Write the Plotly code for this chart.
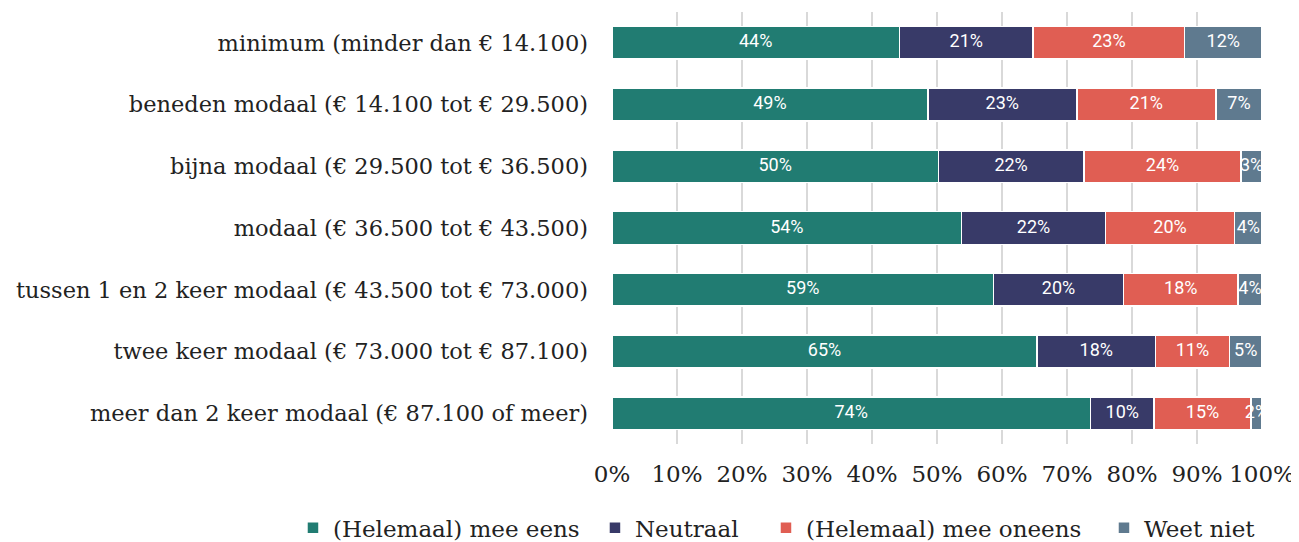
import plotly.graph_objects as go

categories = [
    "minimum (minder dan € 14.100)",
    "beneden modaal (€ 14.100 tot € 29.500)",
    "bijna modaal (€ 29.500 tot € 36.500)",
    "modaal (€ 36.500 tot € 43.500)",
    "tussen 1 en 2 keer modaal (€ 43.500 tot € 73.000)",
    "twee keer modaal (€ 73.000 tot € 87.100)",
    "meer dan 2 keer modaal (€ 87.100 of meer)",
]
series_names = ["(Helemaal) mee eens", "Neutraal", "(Helemaal) mee oneens", "Weet niet"]
eens = [44.2, 48.6, 50.2, 53.8, 58.7, 65.4, 73.6]
neutraal = [20.6, 22.9, 22.4, 22.1, 20.0, 18.2, 9.8]
oneens = [23.3, 21.4, 24.2, 19.9, 17.6, 11.4, 14.9]
weet_niet = [11.9, 7.1, 3.2, 4.2, 3.7, 5.0, 1.7]
colors = ["#217C72", "#383A68", "#E05E53", "#5F7A8F"]
tick_vals = list(range(0, 101, 10))
tick_text = [f"{v}%" for v in tick_vals]

serif = "DejaVu Serif"
legend_ids = ["legend", "legend2", "legend3", "legend4"]
legend_x = [-0.4908, -0.0262, 0.2369, 0.7569]

fig = go.Figure()
all_series = [eens, neutraal, oneens, weet_niet]
for name, vals, col, lid in zip(series_names, all_series, colors, legend_ids):
    fig.add_trace(go.Bar(
        y=categories, x=vals, name=name, orientation="h", legend=lid,
        marker=dict(color=col, line=dict(color="white", width=1.5)),
    ))

# segment labels at the middle of each stacked segment
base = [0.0] * len(categories)
for vals in all_series:
    mids = [b + v / 2 for b, v in zip(base, vals)]
    fig.add_trace(go.Scatter(
        x=mids, y=categories, mode="text",
        text=[f"{round(v)}%" for v in vals],
        textfont=dict(family="Roboto", size=18, color="white"),
        showlegend=False, hoverinfo="skip", cliponaxis=False,
    ))
    base = [b + v for b, v in zip(base, vals)]

legend_style = dict(orientation="h", xanchor="left", y=-0.194, yanchor="middle",
                    font=dict(family=serif, size=23, color="#222"), itemwidth=30,
                    bgcolor="rgba(0,0,0,0)")
fig.update_layout(
    barmode="stack", bargap=0.47,
    width=1299, height=542,
    margin=dict(l=604, r=45, t=4, b=106, autoexpand=False),
    plot_bgcolor="white", paper_bgcolor="white",
    xaxis=dict(range=[0, 100], tickvals=tick_vals, ticktext=tick_text,
               showgrid=True, gridcolor="#D9D9D9", gridwidth=2, zeroline=False,
               tickfont=dict(family=serif, size=23, color="#222"), ticklabelstandoff=14,
               automargin=False),
    yaxis=dict(autorange="reversed", categoryorder="array", categoryarray=categories,
               tickfont=dict(family=serif, size=22.5, color="#222"), ticklabelstandoff=23,
               showgrid=False, automargin=False),
)
for lid, lx in zip(legend_ids, legend_x):
    fig.update_layout({lid: dict(legend_style, x=lx)})
fig.write_html("out.html")
